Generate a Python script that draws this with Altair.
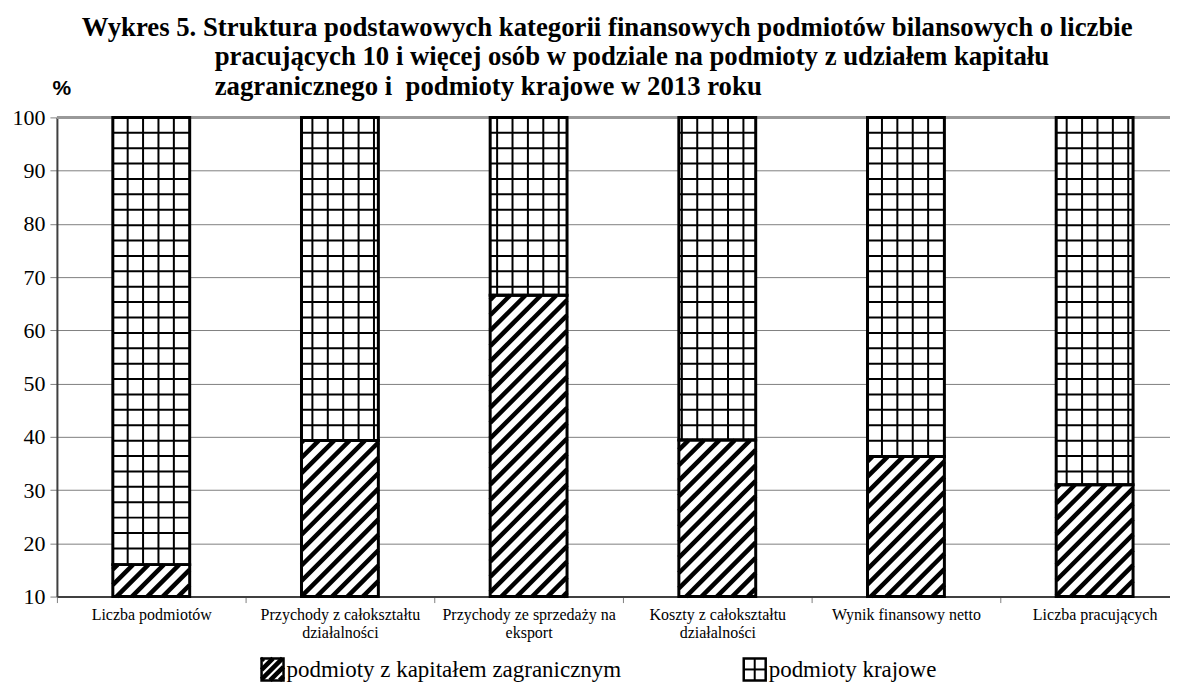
import json
import math
import altair as alt
import pandas as pd

# ---------------- data ----------------
categories = [
    "Liczba podmiotów",
    "Przychody z całokształtu działalności",
    "Przychody ze sprzedaży na eksport",
    "Koszty z całokształtu działalności",
    "Wynik finansowy netto",
    "Liczba pracujących",
]
tick_label_lines = [
    ["Liczba podmiotów"],
    ["Przychody z całokształtu", "działalności"],
    ["Przychody ze sprzedaży na", "eksport"],
    ["Koszty z całokształtu", "działalności"],
    ["Wynik finansowy netto"],
    ["Liczba pracujących"],
]
foreign_share = [16.0, 39.3, 66.6, 39.4, 36.3, 31.0]
domestic_share = [84.0, 60.7, 33.4, 60.6, 63.7, 69.0]
series_names = ["podmioty z kapitałem zagranicznym", "podmioty krajowe"]
y_tick_values = [10, 20, 30, 40, 50, 60, 70, 80, 90, 100]
title_lines = [
    "Wykres 5. Struktura podstawowych kategorii finansowych podmiotów bilansowych o liczbie",
    "pracujących 10 i więcej osób w podziale na podmioty z udziałem kapitału",
    "zagranicznego i\u00a0 podmioty krajowe w 2013 roku",
]
y_unit = "%"

# ---------------- layout / style ----------------
PLOT_W, PLOT_H = 1115, 480
BAND_PX = 189
BAR_PX = 77
Y_MIN, Y_MAX = 10, 100
X_MIN = -0.5
X_MAX = X_MIN + PLOT_W / BAND_PX
KX = BAND_PX
KY = PLOT_H / (Y_MAX - Y_MIN)
PATTERN_PX = 15.42
GRID_PHASE_X = 9.2
HATCH_PHASE = 0.0
TITLE_X = [25, 158, 158]        # px from plot left
TITLE_BASE = [-82, -52, -22]    # px from plot top (baselines)
TITLE_SIZE = 26.8
LEG_TOP = 542
LEG_SIZE = 22
LEG_X = [205, 688]
SERIF = "Liberation Serif"


def px_x(v):
    return (v - X_MIN) * KX


def px_y(v):
    return (Y_MAX - v) * KY


def dx(p):
    return X_MIN + p / KX


def dy(p):
    return Y_MAX - p / KY


def hatch(L, T, R, B, period, phase):
    segs = []
    k0 = math.floor((L + T - phase) / period)
    k1 = math.ceil((R + B - phase) / period)
    for k in range(k0, k1 + 1):
        c = phase + k * period
        xa = max(L, c - B)
        xb = min(R, c - T)
        if xb - xa > 0.6:
            segs.append((xa, c - xa, xb, c - xb))
    return segs


def grid(L, T, R, B, period, phase_x, phase_y):
    segs = []
    k = math.ceil((L - phase_x) / period)
    x = phase_x + k * period
    while x < R - 1:
        if x > L + 1:
            segs.append((x, T, x, B))
        k += 1
        x = phase_x + k * period
    k = math.ceil((T - phase_y) / period)
    y = phase_y + k * period
    while y < B - 1:
        if y > T + 1:
            segs.append((L, y, R, y))
        k += 1
        y = phase_y + k * period
    return segs


def to_rows(segs):
    return [{"x": dx(a), "x2": dx(c), "y": dy(b), "y2": dy(d)} for a, b, c, d in segs]


# bar rectangles (stacked shares)
half = BAR_PX / 2 / KX
bar_rows = []
hatch_rows = []
grid_rows = []
for i, (f, d) in enumerate(zip(foreign_share, domestic_share)):
    bar_rows.append({"x": i - half, "x2": i + half, "y": Y_MIN, "y2": f, "s": series_names[0]})
    bar_rows.append({"x": i - half, "x2": i + half, "y": f, "y2": f + d, "s": series_names[1]})
    L, R = px_x(i - half), px_x(i + half)
    hatch_rows += to_rows(hatch(L, px_y(f), R, px_y(Y_MIN), PATTERN_PX, HATCH_PHASE))
    grid_rows += to_rows(grid(L, px_y(f + d), R, px_y(f), PATTERN_PX, GRID_PHASE_X, 0.0))

bars = pd.DataFrame(bar_rows)

# legend (drawn with the same scales, below the axis)
leg_rows = []
leg_hatch = []
leg_grid = []
for j, name in enumerate(series_names):
    L = LEG_X[j]
    T = LEG_TOP
    R = L + LEG_SIZE
    B = T + LEG_SIZE
    leg_rows.append({"x": dx(L), "x2": dx(R), "y": dy(B), "y2": dy(T),
                     "tx": dx(R + 3), "ty": dy(T + LEG_SIZE / 2 + 1), "s": name})
    if j == 0:
        leg_hatch += to_rows(hatch(L, T, R, B, 9.5, L + T + 2))
    else:
        leg_grid += to_rows(grid(L, T, R, B, LEG_SIZE / 2, L, T))
legend = pd.DataFrame(leg_rows)

title_df = pd.DataFrame({
    "t": title_lines,
    "tx": [dx(p) for p in TITLE_X],
    "ty": [dy(p) for p in TITLE_BASE],
})

xscale = alt.Scale(domain=[X_MIN, X_MAX], nice=False, zero=False)
yscale = alt.Scale(domain=[Y_MIN, Y_MAX], nice=False, zero=False)

n = len(categories)
x_tick_vals = sorted([i - 0.5 for i in range(n + 1) if i - 0.5 <= X_MAX] + list(range(n)))
label_expr = (
    "datum.value == round(datum.value) ? "
    + json.dumps(tick_label_lines, ensure_ascii=False)
    + "[round(datum.value)] : ''"
)

x_axis = alt.Axis(
    values=x_tick_vals,
    labelExpr=label_expr,
    title=None,
    grid=False,
    labelOverlap=False,
    labelFlush=False,
    labelBound=False,
    labelFont=SERIF,
    labelFontSize=16,
    labelColor="black",
    labelLineHeight=18,
    labelPadding=4,
    labelBaseline="top",
    tickSize=6,
    tickColor="#808080",
    tickWidth=1,
    tickOpacity={"condition": {"test": "datum.value == round(datum.value)", "value": 0}, "value": 1},
    domainColor="#404040",
    domainWidth=2,
)
y_axis = alt.Axis(
    values=y_tick_values,
    title=y_unit,
    titleAngle=0,
    titleX=-5,
    titleY=-29,
    titleAlign="left",
    titleBaseline="middle",
    titleFont="Liberation Sans",
    titleFontSize=21,
    titleFontWeight="bold",
    titleColor="black",
    labelFont=SERIF,
    labelFontSize=22,
    labelColor="black",
    labelPadding=5,
    tickSize=7,
    tickColor="#808080",
    grid=True,
    gridColor="#808080",
    gridWidth=1,
    domainColor="#404040",
    domainWidth=2,
)


def xy(fx="x:Q", fy="y:Q"):
    return dict(
        x=alt.X(fx, scale=xscale, axis=x_axis),
        y=alt.Y(fy, scale=yscale, axis=y_axis),
    )


base_bars = alt.Chart(bars)

top_rule = alt.Chart(pd.DataFrame({"v": [Y_MAX], "x": [X_MIN], "x2": [X_MAX]})).mark_rule(
    color="#999999", strokeWidth=3
).encode(**xy("x:Q", "v:Q"), x2="x2:Q")

fills = base_bars.mark_rect(fill="white", strokeWidth=0).encode(**xy(), x2="x2:Q", y2="y2:Q")

hatch_layer = alt.Chart(pd.DataFrame(hatch_rows + leg_hatch)).mark_rule(
    color="black", strokeWidth=4.5, strokeCap="butt"
).encode(**xy(), x2="x2:Q", y2="y2:Q")

grid_layer = alt.Chart(pd.DataFrame(grid_rows + leg_grid)).mark_rule(
    color="black", strokeWidth=2, strokeCap="butt"
).encode(**xy(), x2="x2:Q", y2="y2:Q")

outlines = base_bars.mark_rect(fillOpacity=0, stroke="black", strokeWidth=3).encode(
    **xy(), x2="x2:Q", y2="y2:Q"
)

leg_boxes = alt.Chart(legend).mark_rect(fillOpacity=0, stroke="black", strokeWidth=2.5).encode(
    **xy(), x2="x2:Q", y2="y2:Q"
)
leg_text = alt.Chart(legend).mark_text(
    align="left", baseline="middle", font=SERIF, fontSize=23, color="black"
).encode(**xy("tx:Q", "ty:Q"), text="s:N")

title_text = alt.Chart(title_df).mark_text(
    align="left", baseline="alphabetic", font=SERIF, fontSize=TITLE_SIZE,
    fontWeight="bold", color="black"
).encode(**xy("tx:Q", "ty:Q"), text="t:N")

chart = alt.layer(
    top_rule, fills, hatch_layer, grid_layer, outlines, leg_boxes, leg_text, title_text
).properties(
    width=PLOT_W,
    height=PLOT_H,
    padding={"left": 49, "top": 109, "right": 0, "bottom": 87},
    autosize=alt.AutoSizeParams(type="none"),
).configure_view(stroke=None).configure(background="white")

chart.save("out.html", embed_options={"renderer": "svg", "actions": False})
